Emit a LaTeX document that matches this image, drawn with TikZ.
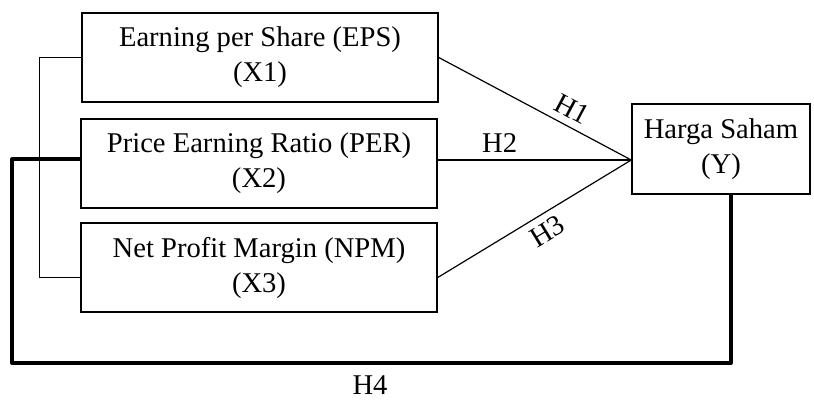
\documentclass[tikz,border=0pt]{standalone}
\usepackage{fontspec}
\setmainfont{Liberation Serif}
\begin{document}
\begin{tikzpicture}[x=0.5pt,y=-0.5pt,
  box/.style={draw,line width=0.75pt,minimum width=178pt,minimum height=44.5pt,
    align=center,inner sep=0pt,font=\fontsize{14.3}{17.5}\selectfont},
  thin line/.style={line width=0.6pt},
  thick line/.style={line width=2pt,line join=round},
  hyp/.style={font=\fontsize{14.3}{17.5}\selectfont,inner sep=3.5pt}]
        \useasboundingbox (0,0) rectangle (814,401);
        \node [box] (X1) at (260,57.5) {Earning per Share (EPS)\\(X1)};
        \node [box] (X2) at (259,163.5) {Price Earning Ratio (PER)\\(X2)};
        \node [box] (X3) at (259,267.5) {Net Profit Margin (NPM)\\(X3)};
        \node [box,minimum width=89pt,minimum height=45pt] (Y) at (721,149) {Harga Saham\\(Y)};
        \coordinate (m) at (Y.west |- 0,160);
        \coordinate (b) at (12,363);
        \draw [thin line] (X1.east) -- node [hyp,sloped,above,pos=0.65] {H1} (m);
        \draw [thin line] (X2.east |- m) -- node [hyp,above,pos=0.32] {H2} (m);
        \draw [thin line] ([yshift=-5]X3.east) -- node [hyp,sloped,below,pos=0.52] {H3} (m);
        \draw [thin line] (X1.west) -- ++(-42,0) |- ([yshift=-5]X3.west);
        \draw [thick line] ([yshift=2]X2.west) -| (b) -| ([xshift=5]Y.south);
        \node [hyp] (H4) at (370,385) {H4};
    \end{tikzpicture}
\end{document}
